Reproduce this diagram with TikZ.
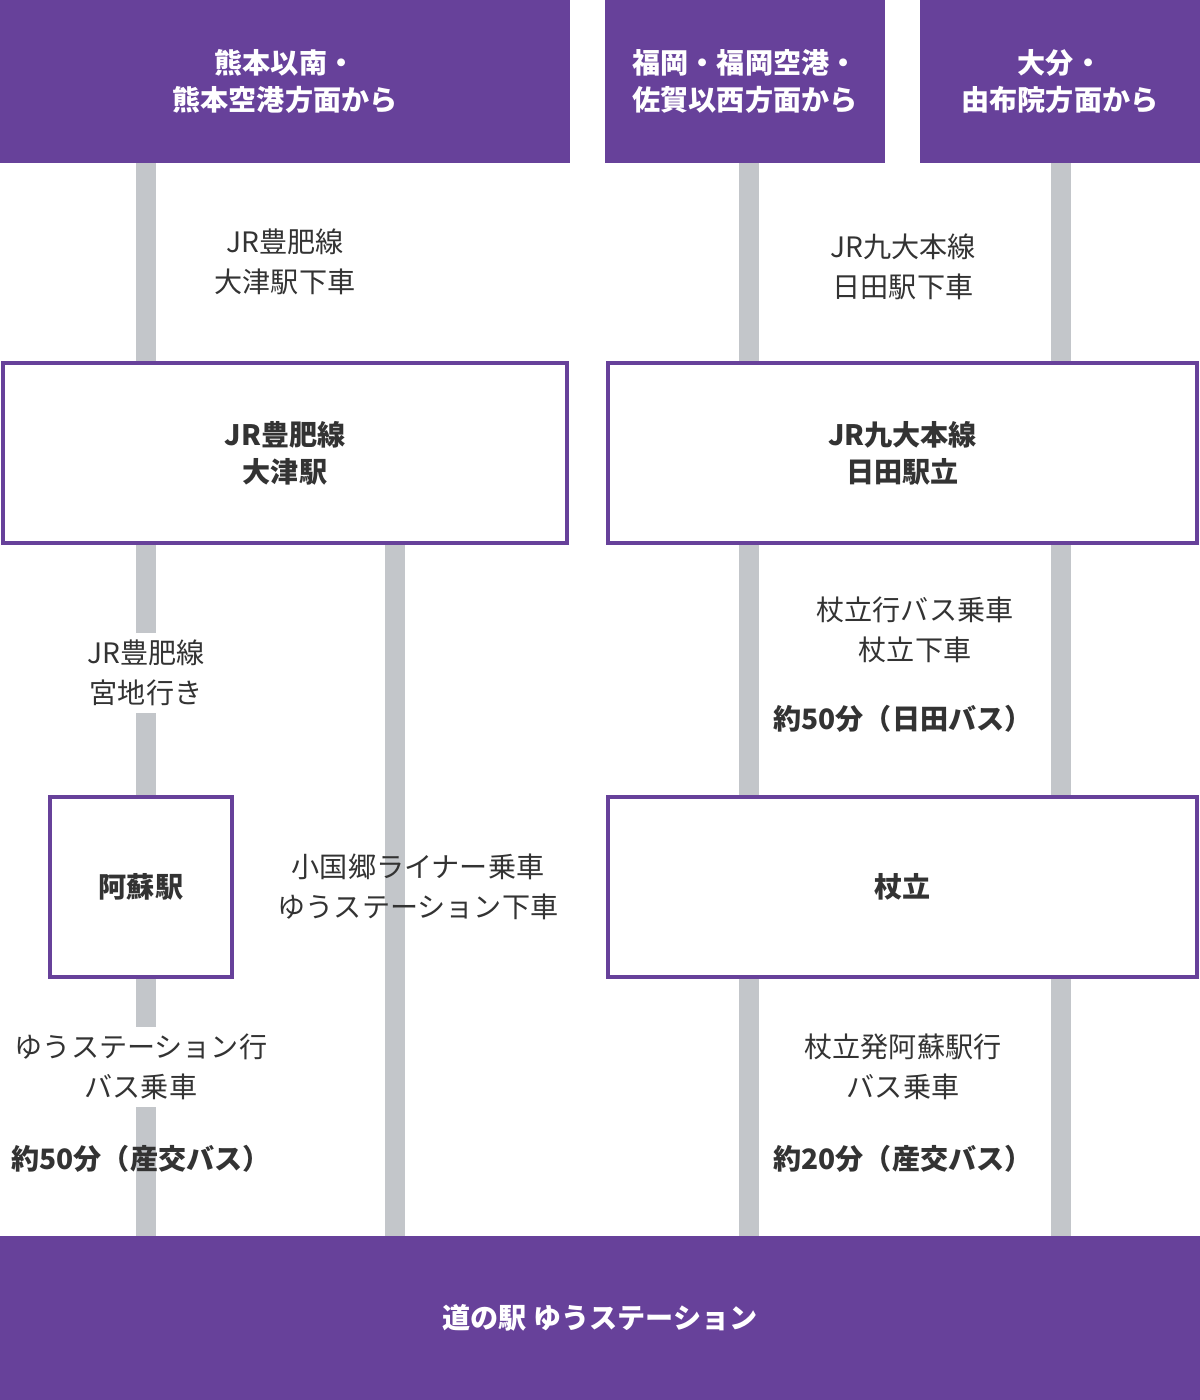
\documentclass[tikz,border=0pt]{standalone}
\usepackage{fontspec}
\newfontfamily\jpfont{Noto Sans CJK JP}
\usetikzlibrary{positioning,backgrounds}
\definecolor{routepurple}{HTML}{67419A}
\definecolor{railgray}{HTML}{C3C6CA}
\definecolor{textgray}{HTML}{333333}

\begin{document}
\begin{tikzpicture}[
        x=0.02cm, y=-0.02cm,
        every node/.style={font=\jpfont\fontsize{16}{22.5}\selectfont, text=textgray, align=center, inner sep=0pt},
        header/.style={rectangle, fill=routepurple, text=white, font=\jpfont\bfseries\fontsize{16}{21}\selectfont},
        station/.style={rectangle, draw=routepurple, line width=2.8pt, fill=white, font=\jpfont\bfseries\fontsize{16}{21}\selectfont},
        rail/.style={railgray, line width=11.3pt},
        note/.style={},
        time/.style={font=\jpfont\bfseries\fontsize{16}{21}\selectfont}
    ]
        \useasboundingbox (0,0) rectangle (1200,1400);
        % headers
        \node[header, minimum width=570*0.02cm, minimum height=163*0.02cm] (kumamoto) at (285,81.5) {熊本以南・\\熊本空港方面から};
        \node[header, minimum width=280*0.02cm, minimum height=163*0.02cm] (fukuoka) at (745,81.5) {福岡・福岡空港・\\佐賀以西方面から};
        \node[header, minimum width=280*0.02cm, minimum height=163*0.02cm] (oita) at (1060,81.5) {大分・\\由布院方面から};
        \node[header, minimum width=1200*0.02cm, minimum height=164*0.02cm] (goal) at (600,1318) {道の駅 ゆうステーション};
        % rails
        \coordinate (r1t) at (146,163); \coordinate (r1b) at (146,1236);
        \coordinate (r2t) at (395,545); \coordinate (r2b) at (395,1236);
        \coordinate (r3t) at (749,163); \coordinate (r3b) at (749,1236);
        \coordinate (r4t) at (1061,163); \coordinate (r4b) at (1061,1236);
        \begin{scope}[on background layer]
            \draw[rail] (r1t) -- (r1b);
            \draw[rail] (r2t) -- (r2b);
            \draw[rail] (r3t) -- (r3b);
            \draw[rail] (r4t) -- (r4b);
        \end{scope}
        % stations
        \node[station, minimum width=564*0.02cm, minimum height=180*0.02cm] (otsu) at (285,453) {JR豊肥線\\大津駅};
        \node[station, minimum width=589*0.02cm, minimum height=180*0.02cm] (hita) at (902.5,453) {JR九大本線\\日田駅立};
        \node[station, minimum width=182*0.02cm, minimum height=180*0.02cm] (aso) at (141,887) {阿蘇駅};
        \node[station, minimum width=589*0.02cm, minimum height=180*0.02cm] (tsuetate) at (902.5,887) {杖立};
        % notes
        \node[note] (n1) at (285,262) {JR豊肥線\\大津駅下車};
        \node[note] (n2) at (903,267) {JR九大本線\\日田駅下車};
        \node[note, fill=white, inner ysep=4pt] (n3) at (146,673) {JR豊肥線\\宮地行き};
        \node[note] (n4) at (915,630) {杖立行バス乗車\\杖立下車};
        \node[time] (t4) at (903,719) {約50分（日田バス）};
        \node[note] (n5) at (418,887) {小国郷ライナー乗車\\ゆうステーション下車};
        \node[note, fill=white, inner ysep=4pt] (n6) at (141,1067) {ゆうステーション行\\バス乗車};
        \node[time] (t6) at (141,1159) {約50分（産交バス）};
        \node[note] (n7) at (903,1067) {杖立発阿蘇駅行\\バス乗車};
        \node[time] (t7) at (903,1159) {約20分（産交バス）};
    \end{tikzpicture}
\end{document}
